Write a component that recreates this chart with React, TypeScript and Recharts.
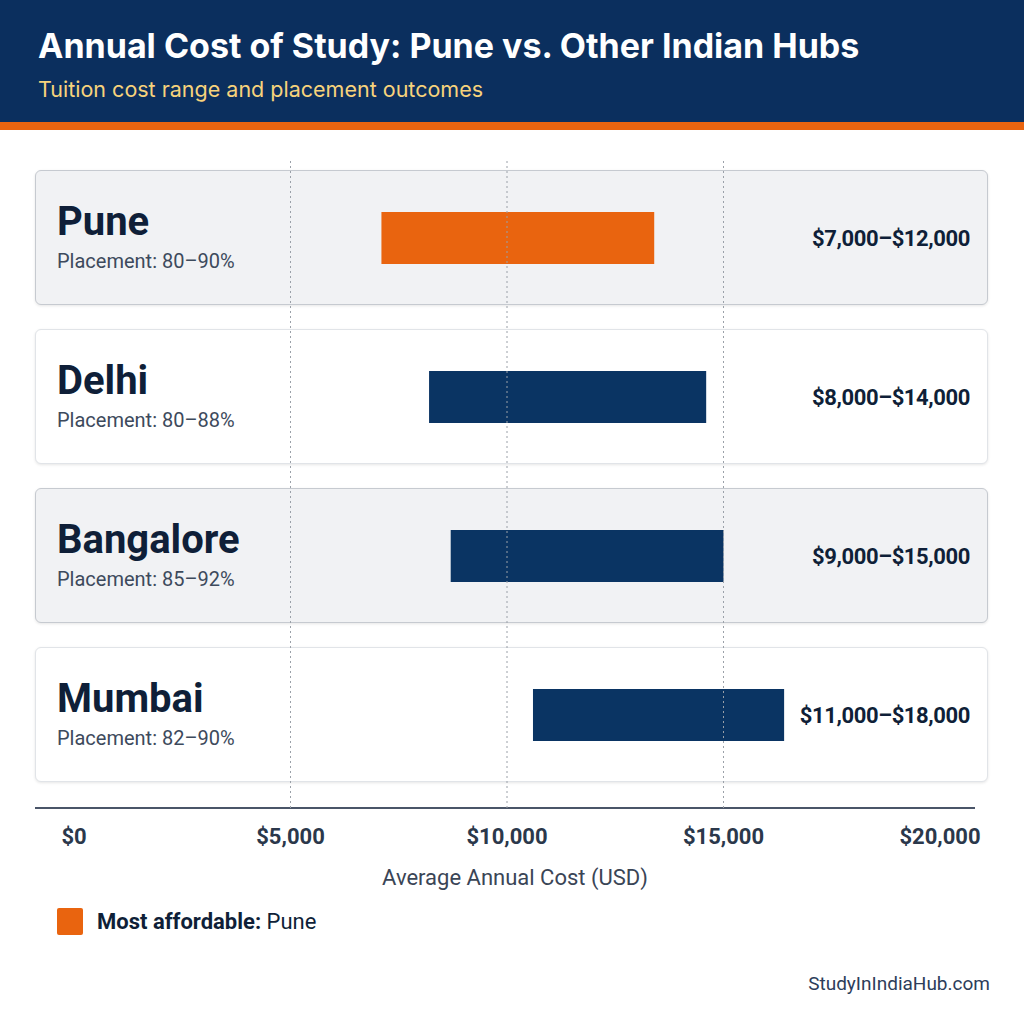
import { BarChart, Bar, XAxis, YAxis, Cell, LabelList, ReferenceLine } from "recharts";

const cities = ["Pune", "Delhi", "Bangalore", "Mumbai"];
// bar extents as drawn in the picture (USD)
const barLow = [7100, 8200, 8700, 10600];
const barHigh = [13400, 14600, 15000, 16400];
// range text printed on each row
const rangeLabels = ["$7,000–$12,000", "$8,000–$14,000", "$9,000–$15,000", "$11,000–$18,000"];
const placementLow = [80, 80, 85, 82];
const placementHigh = [90, 88, 92, 90];
const xTicks = [0, 5000, 10000, 15000, 20000];
const gridValues = [5000, 10000, 15000];
const highlight = "Pune";

const NAVY = "#0b2f5e";
const ORANGE = "#e9640f";
const BAR_NAVY = "#0a3463";
const INK = "#0f1f38";

// plot geometry
const PLOT_TOP = 158;
const PLOT_BOTTOM = 808;
const BAND = 159;

const money = (v: number) => "$" + v.toLocaleString("en-US");

const rows = cities.map((city, i) => ({
  city,
  range: [barLow[i], barHigh[i]],
  placement: `Placement: ${placementLow[i]}–${placementHigh[i]}%`,
  rangeLabel: rangeLabels[i],
}));

const CityLabel = (props: any) => {
  const { y, height, value } = props;
  const cy = y + height / 2;
  return (
    <text x={57} y={cy - 3} fontSize={40} fontWeight={700} fill={INK} fontFamily="Roboto, sans-serif">
      {value}
    </text>
  );
};

const PlacementLabel = (props: any) => {
  const { y, height, value } = props;
  const cy = y + height / 2;
  return (
    <text x={57} y={cy + 30} fontSize={20} fill="#3d4a5c" fontFamily="Roboto, sans-serif">
      {value}
    </text>
  );
};

const RangeLabel = (props: any) => {
  const { y, height, value } = props;
  const cy = y + height / 2;
  return (
    <text
      x={970}
      y={cy + 8}
      fontSize={22}
      fontWeight={700}
      letterSpacing={-0.4}
      fill={INK}
      textAnchor="end"
      fontFamily="Roboto, sans-serif"
    >
      {value}
    </text>
  );
};

export default function App() {
  return (
    <div
      style={{
        position: "absolute",
        left: 0,
        top: 0,
        width: 1024,
        height: 1024,
        background: "#ffffff",
        overflow: "hidden",
        fontFamily: "Roboto, sans-serif",
      }}
    >
      {/* header */}
      <div style={{ position: "absolute", left: 0, top: 0, width: 1024, height: 122, background: NAVY }}>
        <div style={{ position: "absolute", left: 38, top: 26, fontSize: 34, fontWeight: 700, color: "#fff", lineHeight: "40px", fontFamily: "Inter, sans-serif" }}>
          Annual Cost of Study: Pune vs. Other Indian Hubs
        </div>
        <div style={{ position: "absolute", left: 38, top: 76, fontSize: 21.5, color: "#f7d37c", lineHeight: "26px", fontFamily: "Inter, sans-serif" }}>
          Tuition cost range and placement outcomes
        </div>
      </div>
      <div style={{ position: "absolute", left: 0, top: 122, width: 1024, height: 8, background: ORANGE }} />

      {/* row cards */}
      {cities.map((c, i) => (
        <div
          key={c}
          style={{
            position: "absolute",
            left: 35,
            top: PLOT_TOP + i * BAND + 12,
            width: 953,
            height: 135,
            boxSizing: "border-box",
            borderRadius: 6,
            background: i % 2 === 0 ? "#f1f2f4" : "#ffffff",
            border: i % 2 === 0 ? "1px solid #c6cad0" : "1px solid #e1e4e8",
            boxShadow: "0 1px 3px rgba(0,0,0,0.10)",
          }}
        />
      ))}

      {/* axis line */}
      <div style={{ position: "absolute", left: 35, top: 807, width: 940, height: 2, background: "#4a5568" }} />

      <BarChart
        width={1024}
        height={1024}
        data={rows}
        layout="vertical"
        margin={{ top: PLOT_TOP, right: 84, bottom: 1024 - PLOT_BOTTOM - 30, left: 74 }}
        barSize={52}
        style={{ position: "absolute", left: 0, top: 0 }}
      >
        <XAxis
          type="number"
          domain={[0, 20000]}
          ticks={xTicks}
          interval={0}
          axisLine={false}
          tickLine={false}
          tickSize={0}
          tickMargin={20}
          height={30}
          tickFormatter={money}
          tick={{ fontSize: 22, fontWeight: 700, fill: "#2b384b" }}
        />
        <YAxis type="category" dataKey="city" hide padding={{ top: 0, bottom: PLOT_BOTTOM - PLOT_TOP - 4 * BAND }} />
        {gridValues.map((v) => (
          <ReferenceLine key={v} x={v} stroke="#9aa0a8" strokeDasharray="2 3" strokeWidth={1} />
        ))}
        <Bar dataKey="range" isAnimationActive={false}>
          {rows.map((r) => (
            <Cell key={r.city} fill={r.city === highlight ? ORANGE : BAR_NAVY} />
          ))}
          <LabelList dataKey="city" content={CityLabel} />
          <LabelList dataKey="placement" content={PlacementLabel} />
          <LabelList dataKey="rangeLabel" content={RangeLabel} />
        </Bar>
      </BarChart>

      {/* axis title */}
      <div style={{ position: "absolute", left: 0, width: 1030, top: 865, textAlign: "center", fontSize: 22, color: "#3a4556" }}>
        Average Annual Cost (USD)
      </div>

      {/* legend */}
      <div style={{ position: "absolute", left: 57, top: 908, width: 26, height: 27, background: ORANGE, borderRadius: 2 }} />
      <div style={{ position: "absolute", left: 97, top: 908, fontSize: 22, color: INK, lineHeight: "27px" }}>
        <span style={{ fontWeight: 700 }}>Most affordable:</span> {highlight}
      </div>

      {/* footer */}
      <div style={{ position: "absolute", right: 34, top: 972, fontSize: 19, color: "#2d3d5a" }}>StudyInIndiaHub.com</div>
    </div>
  );
}
